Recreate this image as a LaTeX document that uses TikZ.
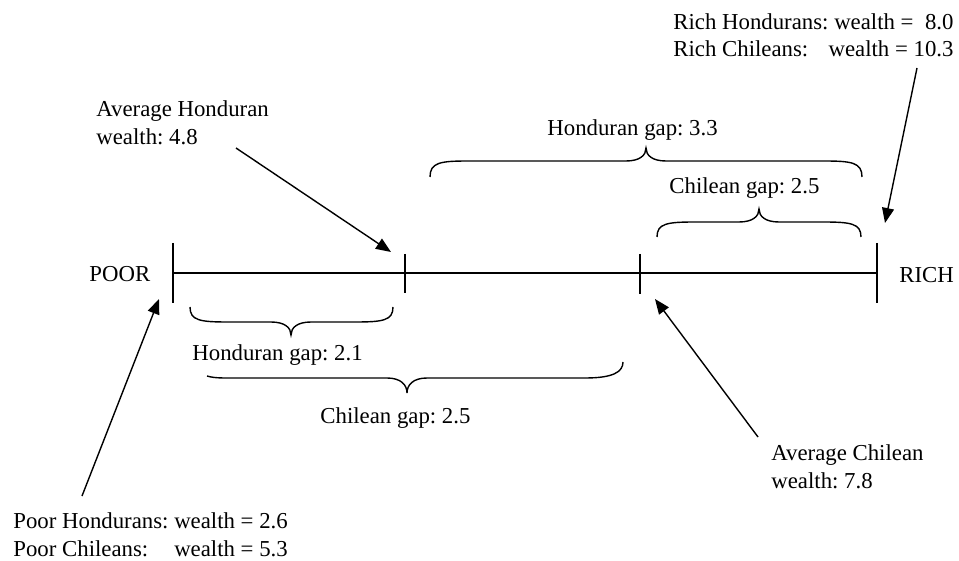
\documentclass[tikz,border=0pt]{standalone}
\usepackage{fontspec}
\setmainfont{Liberation Serif}
\usetikzlibrary{arrows.meta}
\frenchspacing
\newcommand{\wbrace}[7]{% x0, x1, xm, yEndLeft, yFlat, yTip, yEndRight
  \draw[brc] (#1,#4) .. controls (#1,{#4+(#5-#4)*0.9}) and ({#1+10},#5) .. ({#1+38},#5)
    -- ({#3-20},#5) .. controls ({#3-6},#5) and (#3,{#5+(#6-#5)*0.45}) .. (#3,#6)
    .. controls (#3,{#5+(#6-#5)*0.45}) and ({#3+6},#5) .. ({#3+20},#5)
    -- ({#2-38},#5) .. controls ({#2-10},#5) and (#2,{#7+(#5-#7)*0.9}) .. (#2,#7);}
\begin{document}
\begin{tikzpicture}[x=0.5pt,y=-0.5pt,
  lbl/.style={inner sep=0pt,anchor=base west,font=\fontsize{11.4}{14}\selectfont},
  axis/.style={line width=0.8pt},
  brc/.style={line width=0.7pt},
  arr/.style={line width=0.7pt,-{Triangle[length=7.5pt,width=6pt]}}]
\useasboundingbox (0,0) rectangle (959,561);
% axis
\coordinate (L) at (173,273);
\coordinate (R) at (877,273);
\draw[axis] (L) -- (R);
\coordinate (t1a) at (173,243); \coordinate (t1b) at (173,303);
\coordinate (t2a) at (405,254); \coordinate (t2b) at (405,293);
\coordinate (t3a) at (640,254); \coordinate (t3b) at (640,294);
\coordinate (t4a) at (877,243); \coordinate (t4b) at (877,303);
\draw[axis] (t1a) -- (t1b);
\draw[axis] (t2a) -- (t2b);
\draw[axis] (t3a) -- (t3b);
\draw[axis] (t4a) -- (t4b);
% labels
\node[lbl] (poor) at (89,282) {POOR};
\node[lbl] (rich) at (899,283) {RICH};
\node[lbl] (avgH) at (96,117) {\begin{tabular}[t]{@{}l@{}}Average Honduran\\wealth: 4.8\end{tabular}};
\node[lbl] (hg33) at (547,136) {Honduran gap: 3.3};
\node[lbl] (cg25a) at (669,194) {Chilean gap: 2.5};
\node[lbl,font=\fontsize{11.4}{13.5}\selectfont] (richT) at (673,30) {\begin{tabular}[t]{@{}l@{}}Rich Hondurans: wealth =\ \ 8.0\\Rich Chileans:\hfill wealth = 10.3\end{tabular}};
\node[lbl] (hg21) at (192,361) {Honduran gap: 2.1};
\node[lbl] (cg25b) at (320,423) {Chilean gap: 2.5};
\node[lbl] (poorT) at (13,528) {\begin{tabular}[t]{@{}l@{\ }l@{}}Poor Hondurans: & wealth = 2.6\\Poor Chileans: & wealth = 5.3\end{tabular}};
\node[lbl] (avgC) at (771,460) {\begin{tabular}[t]{@{}l@{}}Average Chilean\\wealth: 7.8\end{tabular}};
% braces
\wbrace{430}{862}{646}{177}{161}{148}{177}
\wbrace{657}{861}{759}{237}{222}{209}{237}
\wbrace{190}{393}{291}{307}{322}{335}{307}
\draw[brc] (207,376) .. controls (215,378.5) and (225,378) .. (245,378)
  -- (387,378) .. controls (401,378) and (407,385) .. (407,393)
  .. controls (407,385) and (413,378) .. (427,378)
  -- (585,378) .. controls (613,378) and (623,372) .. (623,362);
% arrows
\coordinate (aHs) at (236,148); \coordinate (aHt) at (391,252);
\coordinate (aRs) at (917,68);  \coordinate (aRt) at (885,223);
\coordinate (aPs) at (82,496);  \coordinate (aPt) at (159,299);
\coordinate (aCs) at (758,437); \coordinate (aCt) at (655,299);
\draw[arr] (aHs) -- (aHt);
\draw[arr] (aRs) -- (aRt);
\draw[arr] (aPs) -- (aPt);
\draw[arr] (aCs) -- (aCt);
\end{tikzpicture}
\end{document}
